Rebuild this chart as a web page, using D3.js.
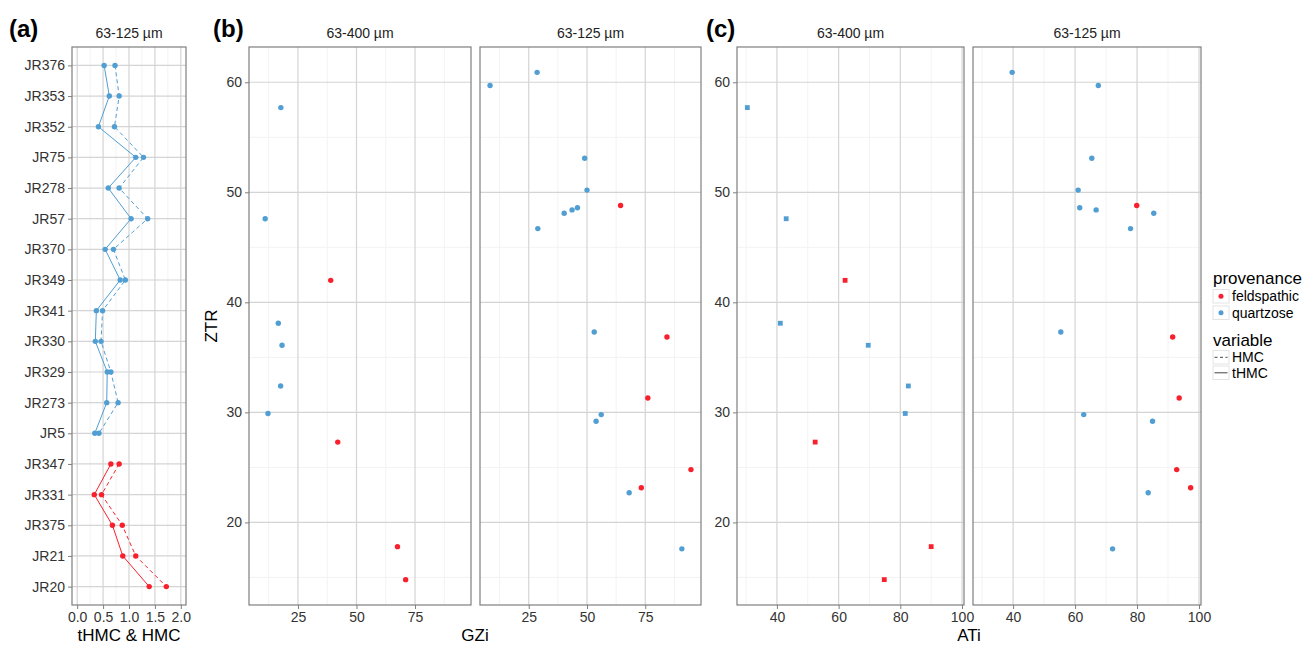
<!DOCTYPE html>
<html>
<head>
<meta charset="utf-8">
<script src="https://d3js.org/d3.v7.min.js"></script>
<style>
  body { margin: 0; background: #fff; }
  text { font-family: "Liberation Sans", Arial, sans-serif; fill: #000; }
  .tick text { font-size: 14px; fill: #333; }
  .tick line { stroke: #7f7f7f; }
  .domain { display: none; }
</style>
</head>
<body>
<svg id="chart" width="1316" height="646"></svg>
<script>
// ---- data ----
// panel (a): 63-125 um samples, top to bottom
var samples = ["JR376","JR353","JR352","JR75","JR278","JR57","JR370","JR349","JR341",
               "JR330","JR329","JR273","JR5","JR347","JR331","JR375","JR21","JR20"];
var sampleProv = ["quartzose","quartzose","quartzose","quartzose","quartzose","quartzose","quartzose",
                  "quartzose","quartzose","quartzose","quartzose","quartzose","quartzose",
                  "feldspathic","feldspathic","feldspathic","feldspathic","feldspathic"];
var tHMC = [0.52,0.62,0.41,1.13,0.60,1.04,0.54,0.83,0.37,0.35,0.58,0.57,0.34,0.65,0.33,0.68,0.88,1.39];
var HMC  = [0.73,0.81,0.72,1.28,0.81,1.36,0.70,0.93,0.49,0.46,0.65,0.79,0.42,0.81,0.47,0.87,1.13,1.72];

// panels (b),(c): 63-400 um fraction
var ztr400  = [57.7,47.6,42.0,38.1,36.1,32.4,29.9,27.3,17.8,14.8];
var gzi400  = [17.7,11.0,39.0,16.6,18.2,17.6,12.2,42.0,67.5,71.0];
var ati400  = [30.4,43.0,62.1,41.1,69.6,82.6,81.6,52.4,90.0,74.8];
var prov400 = ["quartzose","quartzose","feldspathic","quartzose","quartzose","quartzose",
               "quartzose","feldspathic","feldspathic","feldspathic"];

// panels (b),(c): 63-125 um fraction
var ztr125  = [60.9,59.7,53.1,50.2,48.8,48.6,48.4,48.1,46.7,37.3,36.85,31.3,29.8,29.2,24.8,23.15,22.7,17.6];
var gzi125  = [28.6,8.4,49.0,50.0,64.4,45.9,43.6,40.2,28.9,53.1,84.3,76.1,56.1,53.9,94.6,73.3,68.1,90.7];
var ati125  = [39.7,67.5,65.4,61.0,79.9,61.5,66.8,85.4,77.9,55.4,91.5,93.6,62.8,85.0,92.8,97.3,83.6,72.1];
var prov125 = ["quartzose","quartzose","quartzose","quartzose","feldspathic","quartzose","quartzose",
               "quartzose","quartzose","quartzose","feldspathic","feldspathic","quartzose","quartzose",
               "feldspathic","feldspathic","quartzose","quartzose"];

var provenances = ["feldspathic","quartzose"];
var variables = ["HMC","tHMC"];

// ---- layout ----
var svg = d3.select("#chart");
var top_ = 47, bottom = 605;
var col = d3.scaleOrdinal().domain(provenances).range(["#f8202c","#519ed3"]);
var majorCol = "#d4d4d4", minorCol = "#f3f3f3", borderCol = "#7f7f7f";

function expand(ext, f) { var d = (ext[1]-ext[0])*f; return [ext[0]-d, ext[1]+d]; }

var yZ = d3.scaleLinear()
  .domain(expand(d3.extent(ztr400.concat(ztr125)), 0.05))
  .range([bottom, top_]);

function panelFrame(x0, x1, strip) {
  var g = svg.append("g");
  g.append("rect").attr("x", x0).attr("y", top_).attr("width", x1-x0).attr("height", bottom-top_)
    .attr("fill", "#fff");
  svg.append("text").attr("x", (x0+x1)/2).attr("y", 38).attr("text-anchor", "middle")
    .style("font-size", "14px").style("fill", "#222").text(strip);
  return g;
}
function border(x0, x1) {
  svg.append("rect").attr("x", x0).attr("y", top_).attr("width", x1-x0).attr("height", bottom-top_)
    .attr("fill", "none").attr("stroke", borderCol).attr("stroke-width", 1.2);
}
function vgrid(g, xs, vals, c, w) {
  g.selectAll(null).data(vals.filter(function(v){ var p = xs(v); return p > xs.range()[0] && p < xs.range()[1]; }))
    .enter().append("line")
    .attr("x1", function(d){ return xs(d); }).attr("x2", function(d){ return xs(d); })
    .attr("y1", top_).attr("y2", bottom).attr("stroke", c).attr("stroke-width", w);
}
function hgrid(g, x0, x1, ys, vals, c, w) {
  g.selectAll(null).data(vals).enter().append("line")
    .attr("x1", x0).attr("x2", x1)
    .attr("y1", function(d){ return ys(d); }).attr("y2", function(d){ return ys(d); })
    .attr("stroke", c).attr("stroke-width", w);
}
function xAxis(xs, ticks, fmt) {
  svg.append("g").attr("transform", "translate(0," + bottom + ")")
    .call(d3.axisBottom(xs).tickValues(ticks).tickSize(4).tickPadding(3).tickFormat(fmt));
}
function yAxis(x0, ys, ticks) {
  svg.append("g").attr("transform", "translate(" + x0 + ",0)")
    .call(d3.axisLeft(ys).tickValues(ticks).tickSize(4).tickPadding(3));
}

// ---- panel (a) ----
var ax0 = 72, ax1 = 186;
var xA = d3.scaleLinear().domain([-0.1, 2.1]).range([ax0, ax1]);
var yA = d3.scalePoint().domain(samples).range([top_, bottom]).padding(0.6);
var ga = panelFrame(ax0, ax1, "63-125 µm");
vgrid(ga, xA, [0.25,0.75,1.25,1.75], minorCol, 1);
vgrid(ga, xA, [0,0.5,1,1.5,2], majorCol, 1.2);
hgrid(ga, ax0, ax1, yA, samples, majorCol, 1.2);

var rowsA = samples.map(function(s, i){ return {s: s, prov: sampleProv[i], tHMC: tHMC[i], HMC: HMC[i]}; });
provenances.forEach(function(p) {
  var rows = rowsA.filter(function(r){ return r.prov === p; });
  [["HMC","4,3"],["tHMC",null]].forEach(function(v) {
    var line = d3.line().x(function(r){ return xA(r[v[0]]); }).y(function(r){ return yA(r.s); });
    ga.append("path").datum(rows).attr("d", line).attr("fill", "none")
      .attr("stroke", col(p)).attr("stroke-width", 1).attr("stroke-dasharray", v[1]);
    ga.selectAll(null).data(rows).enter().append("circle")
      .attr("cx", function(r){ return xA(r[v[0]]); }).attr("cy", function(r){ return yA(r.s); })
      .attr("r", 2.7).attr("fill", col(p));
  });
});
border(ax0, ax1);
xAxis(xA, [0,0.5,1,1.5,2], d3.format(".1f"));
yAxis(ax0, yA, samples);
svg.append("text").attr("x", (ax0+ax1)/2).attr("y", 641).attr("text-anchor", "middle")
  .style("font-size", "17px").text("tHMC & HMC");
svg.append("text").attr("x", 9).attr("y", 37).style("font-size", "24px").style("font-weight", "bold").text("(a)");

// ---- facet panels (b) and (c) ----
function facetPanel(x0, x1, xs, xv, yv, pv, strip, shape, majors, minors, showY) {
  var g = panelFrame(x0, x1, strip);
  vgrid(g, xs, minors, minorCol, 1);
  hgrid(g, x0, x1, yZ, [15,25,35,45,55], minorCol, 1);
  vgrid(g, xs, majors, majorCol, 1.2);
  hgrid(g, x0, x1, yZ, [20,30,40,50,60], majorCol, 1.2);
  var rows = xv.map(function(v, i){ return {x: v, y: yv[i], p: pv[i]}; });
  if (shape === "square") {
    g.selectAll(null).data(rows).enter().append("rect")
      .attr("x", function(r){ return xs(r.x) - 2.4; }).attr("y", function(r){ return yZ(r.y) - 2.4; })
      .attr("width", 4.8).attr("height", 4.8).attr("fill", function(r){ return col(r.p); });
  } else {
    g.selectAll(null).data(rows).enter().append("circle")
      .attr("cx", function(r){ return xs(r.x); }).attr("cy", function(r){ return yZ(r.y); })
      .attr("r", 2.7).attr("fill", function(r){ return col(r.p); });
  }
  border(x0, x1);
  if (showY) yAxis(x0, yZ, [20,30,40,50,60]);
}

// (b) GZi
var b1 = [249, 471], b2 = [480, 701];
var gziDom = expand(d3.extent(gzi400.concat(gzi125)), 0.05);
var xB1 = d3.scaleLinear().domain(gziDom).range(b1);
var xB2 = d3.scaleLinear().domain(gziDom).range(b2);
facetPanel(b1[0], b1[1], xB1, gzi400, ztr400, prov400, "63-400 µm", "circle", [25,50,75], [12.5,37.5,62.5,87.5], true);
facetPanel(b2[0], b2[1], xB2, gzi125, ztr125, prov125, "63-125 µm", "circle", [25,50,75], [12.5,37.5,62.5,87.5], false);
xAxis(xB1, [25,50,75], d3.format("d"));
xAxis(xB2, [25,50,75], d3.format("d"));
svg.append("text").attr("x", (b1[0]+b2[1])/2).attr("y", 641).attr("text-anchor", "middle")
  .style("font-size", "17px").text("GZi");
svg.append("text").attr("transform", "translate(217," + ((top_+bottom)/2) + ") rotate(-90)")
  .attr("text-anchor", "middle").style("font-size", "17px").text("ZTR");
svg.append("text").attr("x", 213).attr("y", 37).style("font-size", "24px").style("font-weight", "bold").text("(b)");

// (c) ATi
var c1 = [737, 964], c2 = [973, 1201];
var atiDom = expand(d3.extent(ati400.concat(ati125)), 0.05);
var xC1 = d3.scaleLinear().domain(atiDom).range(c1);
var xC2 = d3.scaleLinear().domain(atiDom).range(c2);
facetPanel(c1[0], c1[1], xC1, ati400, ztr400, prov400, "63-400 µm", "square", [40,60,80,100], [30,50,70,90], true);
facetPanel(c2[0], c2[1], xC2, ati125, ztr125, prov125, "63-125 µm", "circle", [40,60,80,100], [30,50,70,90], false);
xAxis(xC1, [40,60,80,100], d3.format("d"));
xAxis(xC2, [40,60,80,100], d3.format("d"));
svg.append("text").attr("x", (c1[0]+c2[1])/2).attr("y", 641).attr("text-anchor", "middle")
  .style("font-size", "17px").text("ATi");
svg.append("text").attr("x", 706).attr("y", 37).style("font-size", "24px").style("font-weight", "bold").text("(c)");

// ---- legends ----
var lx = 1213;
svg.append("text").attr("x", lx).attr("y", 284).style("font-size", "17px").text("provenance");
provenances.forEach(function(p, i) {
  var y = 289.5 + i * 16.5;
  svg.append("rect").attr("x", lx).attr("y", y).attr("width", 16).attr("height", 13.5)
    .attr("fill", "#fff").attr("stroke", "#e3e3e3");
  svg.append("circle").attr("cx", lx + 8).attr("cy", y + 6.8).attr("r", 2.5).attr("fill", col(p));
  svg.append("text").attr("x", lx + 19).attr("y", y + 11.5).style("font-size", "14px").text(p);
});
svg.append("text").attr("x", lx).attr("y", 346).style("font-size", "17px").text("variable");
variables.forEach(function(v, i) {
  var y = 350.5 + i * 15.5;
  svg.append("rect").attr("x", lx).attr("y", y).attr("width", 16).attr("height", 13.5)
    .attr("fill", "#fff").attr("stroke", "#e3e3e3");
  svg.append("line").attr("x1", lx + 1.5).attr("x2", lx + 14.5).attr("y1", y + 6.8).attr("y2", y + 6.8)
    .attr("stroke", "#444").attr("stroke-width", 1)
    .attr("stroke-dasharray", v === "HMC" ? "3,2.5" : null);
  svg.append("text").attr("x", lx + 19).attr("y", y + 11.5).style("font-size", "14px").text(v);
});
</script>
</body>
</html>
